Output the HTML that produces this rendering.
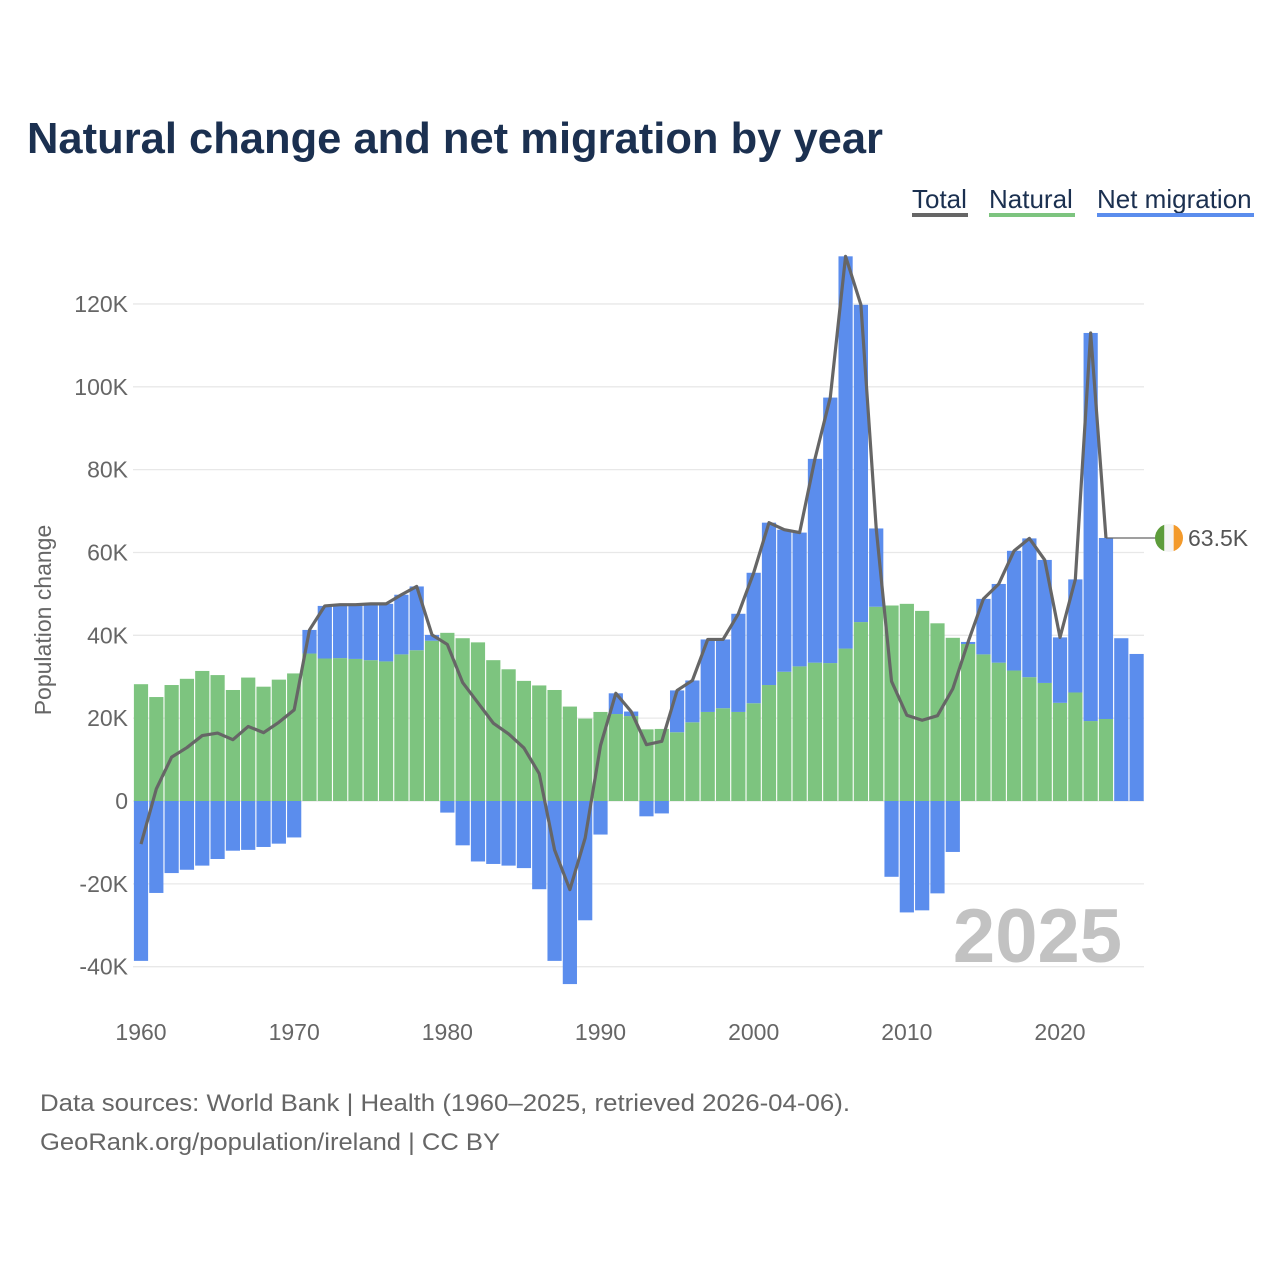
<!DOCTYPE html>
<html><head><meta charset="utf-8"><style>
body{margin:0;background:#fff;font-family:"Liberation Sans",sans-serif}
#wrap{position:relative;width:1280px;height:1280px;overflow:hidden}
</style></head><body>
<div id="wrap">
<svg id="chart" width="1280" height="1280" font-family="Liberation Sans, sans-serif">
<text x="27" y="153" font-size="44" font-weight="bold" fill="#1b3050" textLength="856" lengthAdjust="spacingAndGlyphs">Natural change and net migration by year</text>
<g>
<g><text x="912" y="208" font-size="26" fill="#1b3050">Total</text><rect x="912" y="213" width="56" height="4" fill="#666"/></g>
<g><text x="989" y="208" font-size="26" fill="#1b3050">Natural</text><rect x="989" y="213" width="86" height="4" fill="#7dc47f"/></g>
<g><text x="1097" y="208" font-size="26" fill="#1b3050">Net migration</text><rect x="1097" y="213" width="157" height="4" fill="#5b8ded"/></g>
</g>
<text transform="translate(51,620) rotate(-90)" text-anchor="middle" font-size="23" fill="#666">Population change</text>
<g id="grid"></g><g id="bars"></g><g id="line"></g>
<text x="1122" y="962" text-anchor="end" font-size="76" font-weight="bold" fill="#c2c2c2">2025</text>
<text x="40" y="1111" font-size="24" fill="#666" textLength="810" lengthAdjust="spacingAndGlyphs">Data sources: World Bank | Health (1960–2025, retrieved 2026-04-06).</text>
<text x="40" y="1150" font-size="24" fill="#666" textLength="460" lengthAdjust="spacingAndGlyphs">GeoRank.org/population/ireland | CC BY</text>
</svg>
</div>
<script>
const years=[];for(let y=1960;y<=2025;y++)years.push(y);
const natural=[28.2,25.1,28.0,29.5,31.4,30.4,26.8,29.8,27.6,29.3,30.8,35.6,34.4,34.5,34.3,34.0,33.7,35.4,36.4,38.7,40.6,39.3,38.3,34.0,31.8,29.0,27.9,26.8,22.8,19.9,21.5,21.0,20.5,17.3,17.4,16.6,19.0,21.5,22.4,21.5,23.6,28.0,31.2,32.5,33.4,33.3,36.8,43.2,46.9,47.2,47.6,45.9,42.9,39.4,37.9,35.4,33.4,31.5,29.9,28.5,23.7,26.2,19.3,19.8,null,null];
const migration=[-38.6,-22.2,-17.4,-16.6,-15.6,-14.0,-12.0,-11.8,-11.1,-10.3,-8.8,5.7,12.7,12.9,13.1,13.6,13.9,14.4,15.4,1.4,-2.8,-10.7,-14.6,-15.2,-15.6,-16.2,-21.3,-38.6,-44.2,-28.8,-8.1,5.0,1.1,-3.7,-3.0,10.1,10.1,17.5,16.6,23.7,31.5,39.2,34.3,32.3,49.2,64.1,94.7,76.6,18.9,-18.3,-26.9,-26.4,-22.3,-12.3,0.5,13.4,19.0,28.9,33.5,29.7,15.8,27.3,93.7,43.7,39.3,35.5];
const yTicks=[-40,-20,0,20,40,60,80,100,120];
const xTicks=[1960,1970,1980,1990,2000,2010,2020];
const NS='http://www.w3.org/2000/svg';
const X=y=>141+(y-1960)*15.317;
const Y=v=>801-v*4.142;
function mk(t,a,p){const e=document.createElementNS(NS,t);for(const k in a)e.setAttribute(k,a[k]);p.appendChild(e);return e;}
const grid=document.getElementById('grid'),bars=document.getElementById('bars'),line=document.getElementById('line');
yTicks.forEach(v=>{
  const l=mk('line',{x1:133,x2:1144,y1:Y(v),y2:Y(v),stroke:'#e8e8e8','stroke-width':1.3},grid);
  
  
  const t=mk('text',{x:128,y:Y(v)+8,'text-anchor':'end','font-size':23,fill:'#666'},grid);
  t.textContent=v===0?'0':v+'K';
  
  
});
xTicks.forEach(y=>{
  const t=mk('text',{x:X(y),y:1040,'text-anchor':'middle','font-size':23,fill:'#666'},grid);
  t.textContent=y;
  
  
});
const bw=14.2;
years.forEach((yr,i)=>{
  const n=natural[i],m=migration[i];const x=X(yr)-bw/2;
  let base=0;
  if(n!==null){
    const r=mk('rect',{x:x,y:Y(n),width:bw,height:Y(0)-Y(n),fill:'#7dc47f'},bars);
    
    
    base=n;
  }
  if(m!==null){
    let top,h;
    if(m>=0){top=Y(base+m);h=Y(base)-Y(base+m);}else{top=Y(0);h=Y(m)-Y(0);}
    const r=mk('rect',{x:x,y:top,width:bw,height:h,fill:'#5b8ded'},bars);
    
    
  }
});
const pts=[];let last=null;
years.forEach((yr,i)=>{if(natural[i]!==null&&migration[i]!==null){const t=natural[i]+migration[i];pts.push(X(yr)+','+Y(t));last=[X(yr),Y(t),t];}});
const pl=mk('polyline',{points:pts.join(' '),fill:'none',stroke:'#666','stroke-width':3.2,'stroke-linejoin':'round'},line);


const c=mk('line',{x1:last[0],y1:last[1],x2:1156,y2:last[1],stroke:'#666','stroke-width':1.3},line);


const fg=mk('g',{},line);


const cx=1169,cy=last[1],r=14;
mk('clipPath',{id:'fc'},fg).appendChild(document.createElementNS(NS,'circle'));
const cc=document.querySelector('#fc circle');cc.setAttribute('cx',cx);cc.setAttribute('cy',cy);cc.setAttribute('r',r);
mk('rect',{x:cx-r,y:cy-r,width:r*2/3,height:2*r,fill:'#5d9c3b','clip-path':'url(#fc)'},fg);
mk('rect',{x:cx-r/3,y:cy-r,width:r*2/3,height:2*r,fill:'#f4f4f4','clip-path':'url(#fc)'},fg);
mk('rect',{x:cx+r/3,y:cy-r,width:r*2/3,height:2*r,fill:'#f39a2b','clip-path':'url(#fc)'},fg);
const lt=mk('text',{x:1188,y:cy+8,'font-size':23,fill:'#555'},line);
lt.textContent=last[2].toFixed(1)+'K';


</script>
</body></html>
